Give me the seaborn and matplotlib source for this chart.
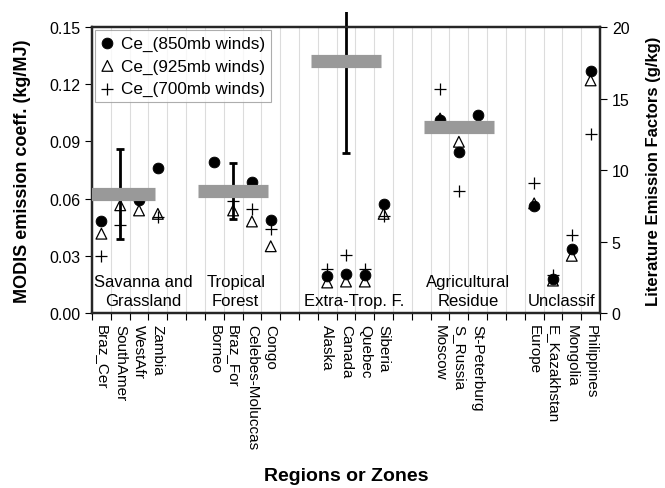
import numpy as np
import matplotlib
matplotlib.use('Agg')
import matplotlib.pyplot as plt
from matplotlib.patches import Rectangle
import seaborn as sns

# slots along the x axis (empty strings are the gaps between zones)
regions = ['Braz_Cer', 'SouthAmer', 'WestAfr', 'Zambia', '', '',
           'Borneo', 'Braz_For', 'Celebes-Moluccas', 'Congo', '', '',
           'Alaska', 'Canada', 'Quebec', 'Siberia', '', '',
           'Moscow', 'S_Russia', 'St-Peterburg', '', '',
           'Europe', 'E_Kazakhstan', 'Mongolia', 'Philippines']

nan = np.nan
ce_850 = [0.048, nan, 0.0595, 0.0763, nan, nan,
          0.0793, nan, 0.0688, 0.0486, nan, nan,
          0.0196, 0.0202, 0.0200, 0.057, nan, nan,
          0.101, 0.0842, 0.1038, nan, nan,
          0.0561, 0.0179, 0.0337, 0.127]
ce_925 = [0.0416, 0.0565, 0.0538, 0.052, nan, nan,
          nan, 0.0538, 0.048, 0.035, nan, nan,
          0.016, 0.0165, 0.0165, 0.052, nan, nan,
          0.102, 0.0898, nan, nan, nan,
          0.0575, 0.017, 0.030, 0.122]
ce_700 = [0.030, 0.046, nan, 0.0504, nan, nan,
          nan, 0.059, 0.0547, 0.0442, nan, nan,
          0.023, 0.0305, 0.023, 0.051, nan, nan,
          0.1175, 0.064, nan, nan, nan,
          0.0683, 0.020, 0.041, 0.0938]

# literature emission factors (g/kg), placed on one slot per zone
lit_slot = [1, 7, 13, 19]
lit_val = [8.33, 8.54, 17.65, 13.0]
lit_low = [5.2, 6.55, 11.2, 13.0]
lit_high = [11.5, 10.5, 24.0, 13.0]

zone_names = ['Savanna and\nGrassland', 'Tropical\nForest', 'Extra-Trop. F.',
              'Agricultural\nResidue', 'Unclassif']
zone_x = [2.24, 7.14, 13.44, 19.48, 24.46]


def main():
    sns.set_style('white')
    plt.rcParams['font.family'] = ['Liberation Sans', 'DejaVu Sans']
    plt.rcParams['text.color'] = 'black'
    plt.rcParams['axes.labelcolor'] = 'black'
    plt.rcParams['xtick.color'] = 'black'
    plt.rcParams['ytick.color'] = 'black'

    fig = plt.figure(figsize=(6.65, 4.89), dpi=100)
    ax = fig.add_axes([92 / 665, 1 - 314 / 489, 508 / 665, 286 / 489])
    xs = np.arange(len(regions))

    sns.scatterplot(x=xs, y=ce_925, ax=ax, marker='^', s=60, fc='none',
                    ec='black', linewidth=0.9, label='Ce_(925mb winds)', zorder=3)
    sns.scatterplot(x=xs, y=ce_850, ax=ax, marker='o', s=60, color='black',
                    ec='black', label='Ce_(850mb winds)', zorder=4)
    sns.scatterplot(x=xs, y=ce_700, ax=ax, marker='+', s=70, color='black',
                    linewidth=0.9, label='Ce_(700mb winds)', zorder=5)

    ax.set_xlim(-0.5, len(regions) - 0.5)
    ax.set_ylim(0, 0.15)
    ax.set_yticks(np.arange(0, 0.151, 0.03))
    ax.set_yticklabels([f'{v:.2f}' for v in np.arange(0, 0.151, 0.03)])
    ax.set_xticks(xs)
    ax.set_xticklabels(regions, rotation=270, ha='center', va='top')
    ax.set_xticks(np.arange(-0.5, len(regions), 1.0), minor=True)
    ax.tick_params(axis='x', which='major', length=0, labelsize=11, pad=8)
    ax.tick_params(axis='x', which='minor', length=5, width=0.8, direction='out',
                   bottom=True)
    ax.tick_params(axis='y', length=5, width=0.8, direction='out', left=True,
                   labelsize=11.5)
    ax.grid(axis='x', which='minor', color='#dcdcdc', linewidth=0.8)
    ax.grid(axis='x', which='major', visible=False)
    for s in ax.spines.values():
        s.set_linewidth(1.6)
        s.set_color('black')

    ax.set_ylabel('MODIS emission coeff. (kg/MJ)', fontsize=13,
                  fontweight='bold')
    ax.yaxis.set_label_coords(-0.12, 0.5)
    ax.set_xlabel('Regions or Zones', fontsize=14, fontweight='bold')
    ax.xaxis.set_label_coords(0.5, -0.54)

    for name, x in zip(zone_names, zone_x):
        ax.text(x, 0.0025, name, ha='center', va='bottom', fontsize=12,
                linespacing=1.35, zorder=6)

    handles, labels = ax.get_legend_handles_labels()
    order = ['Ce_(850mb winds)', 'Ce_(925mb winds)', 'Ce_(700mb winds)']
    hmap = dict(zip(labels, handles))
    leg = ax.legend([hmap[k] for k in order], order, loc='upper left',
                    fontsize=12.3, frameon=True, fancybox=False,
                    borderaxespad=0.15, handlelength=0.8, handletextpad=0.4,
                    labelspacing=0.45, borderpad=0.35)
    leg.get_frame().set_edgecolor('#999999')
    leg.get_frame().set_linewidth(0.8)
    leg.set_zorder(10)

    # right axis: literature emission factors
    ax2 = ax.twinx()
    ax2.set_ylim(0, 20)
    ax2.set_yticks([0, 5, 10, 15, 20])
    ax2.tick_params(axis='y', length=5, width=0.8, direction='out', right=True,
                    labelsize=11.5)
    ax2.set_ylabel('Literature Emission Factors (g/kg)', fontsize=12,
                   fontweight='bold')
    ax2.yaxis.set_label_coords(1.09, 0.5)
    for s in ax2.spines.values():
        s.set_linewidth(1.6)

    lo = np.array(lit_val) - np.array(lit_low)
    hi = np.array(lit_high) - np.array(lit_val)
    eb = ax2.errorbar(lit_slot, lit_val, yerr=[lo, hi], fmt='none',
                      ecolor='black', elinewidth=2, capsize=3, capthick=2,
                      zorder=2)
    # the chart area cuts the tall bar a little above the plot
    clip = Rectangle((0, 0), 1, 1 - 13 / 489, transform=fig.transFigure)
    for art in list(eb.lines[1]) + list(eb.lines[2]):
        art.set_clip_path(clip)
    ax2.hlines(lit_val, np.array(lit_slot) - 1.85, np.array(lit_slot) + 1.85,
               colors='#999999', linewidth=9.5, zorder=3)

    fig.savefig('out.png', dpi=100)


if __name__ == '__main__':
    main()
